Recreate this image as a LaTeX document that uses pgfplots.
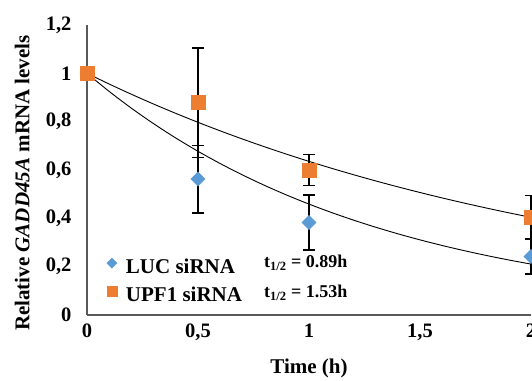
\documentclass[border=0pt]{standalone}
\usepackage{pgfplots}
\pgfplotsset{compat=1.18}
\usepackage{fontspec}
\setmainfont{Liberation Serif}
\definecolor{lucblue}{HTML}{5B9BD5}
\definecolor{upforange}{HTML}{ED7D31}
\definecolor{axisgray}{HTML}{595959}
\begin{document}
\begin{tikzpicture}
\begin{axis}[
  name=ax,
  scale only axis, width=444bp, height=290bp,
  xmin=0, xmax=2, ymin=0, ymax=1.2,
  axis lines=left,
  axis line style={-, axisgray, line width=1.5bp},
  major tick length=0pt,
  xtick={0,0.5,1,1.5,2},
  ytick={0,0.2,0.4,0.6,0.8,1,1.2},
  xticklabels={0,{0,5},1,{1,5},2},
  yticklabels={0,{0,2},{0,4},{0,6},{0,8},1,{1,2}},
  ticklabel style={font=\fontsize{20.5bp}{24bp}\selectfont\bfseries},
  xticklabel style={yshift=-5bp},
  yticklabel style={xshift=-12bp},
  xlabel={Time (h)},
  ylabel={Relative \textit{GADD45A} mRNA levels},
  label style={font=\fontsize{21bp}{25bp}\selectfont\bfseries},
  xlabel style={at={(axis description cs:0.5,-0.183)}, anchor=center},
  ylabel style={at={(axis description cs:-0.146,0.455)}, anchor=center, rotate=0},
  legend style={at={(axis description cs:0.040,0.197)}, anchor=north west,
    draw=none, fill=none, font=\fontsize{21bp}{25bp}\selectfont\bfseries,
    row sep=9bp, inner sep=0pt, column sep=0pt,
    nodes={inner sep=0pt, text height=14bp, text depth=4bp}},
  legend cell align=left,
  legend image code/.code={\path[draw=none,fill=none] (-7bp,0bp) -- (14bp,0bp); \draw[#1] plot coordinates {(0bp,0bp)};},
  clip=false,
]
\addplot[only marks, mark=square*, mark size=5bp,
  mark options={rotate=45, fill=lucblue, draw=lucblue},
  legend image post style={mark size=3.6bp, yshift=5bp},
  error bars/.cd, y dir=both, y explicit,
  error bar style={black, line width=1.3bp},
  error mark options={black, line width=1.3bp, mark size=6bp, rotate=90}]
  coordinates {(0,1) +- (0,0) (0.5,0.5625) +- (0,0.14) (1,0.383) +- (0,0.114) (2,0.242) +- (0,0.072)};
\addlegendentry{LUC siRNA}
\addplot[only marks, mark=square*, mark size=7bp,
  mark options={fill=upforange, draw=upforange},
  legend image post style={mark size=5bp, yshift=5bp},
  error bars/.cd, y dir=both, y explicit,
  error bar style={black, line width=1.3bp},
  error mark options={black, line width=1.3bp, mark size=6bp, rotate=90}]
  coordinates {(0,1) +- (0,0) (0.5,0.879) +- (0,0.226) (1,0.60) +- (0,0.065) (2,0.405) +- (0,0.09)};
\addlegendentry{UPF1 siRNA}
% exponential trendlines (t1/2 = 0.89 h and 1.53 h)
\addplot[black, line width=0.9bp, no marks, smooth, forget plot] coordinates {
 (0,1) (0.1,0.92507) (0.2,0.85575) (0.3,0.79163) (0.4,0.73231) (0.5,0.67744)
 (0.6,0.62668) (0.7,0.57972) (0.8,0.53628) (0.9,0.49610) (1.0,0.45893)
 (1.1,0.42454) (1.2,0.39273) (1.3,0.36330) (1.4,0.33608) (1.5,0.31090)
 (1.6,0.28760) (1.7,0.26605) (1.8,0.24612) (1.9,0.22768) (2.0,0.21062)};
\addplot[black, line width=0.9bp, no marks, smooth, forget plot] coordinates {
 (0,1) (0.1,0.95571) (0.2,0.91338) (0.3,0.87292) (0.4,0.83426) (0.5,0.79731)
 (0.6,0.76199) (0.7,0.72824) (0.8,0.69599) (0.9,0.66516) (1.0,0.63570)
 (1.1,0.60754) (1.2,0.58063) (1.3,0.55491) (1.4,0.53033) (1.5,0.50684)
 (1.6,0.48439) (1.7,0.46294) (1.8,0.44243) (1.9,0.42284) (2.0,0.40411)};
\node[anchor=west, font=\fontsize{18bp}{21bp}\selectfont\bfseries] at (axis cs:0.782,0.217) {t\textsubscript{1/2} = 0.89h};
\node[anchor=west, font=\fontsize{18bp}{21bp}\selectfont\bfseries] at (axis cs:0.782,0.092) {t\textsubscript{1/2} = 1.53h};
\end{axis}
\pgfresetboundingbox
\path[use as bounding box] ([xshift=-87bp,yshift=-66bp]ax.south west) rectangle ([xshift=1bp,yshift=25bp]ax.north east);
\end{tikzpicture}
\end{document}
